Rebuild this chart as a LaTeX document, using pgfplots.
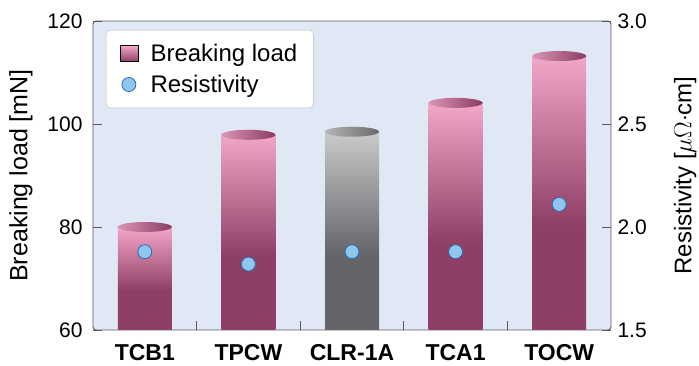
\documentclass[border=0pt]{standalone}
\usepackage{pgfplots}
\pgfplotsset{compat=1.18}
\usepackage{fontspec}
\setmainfont{Liberation Sans}

\definecolor{bgc}{HTML}{E1E8F5}
\definecolor{frame}{HTML}{5A5A5E}
\definecolor{pL}{HTML}{F2A6C8}
\definecolor{pD}{HTML}{8F3F66}
\definecolor{gL}{HTML}{CACACB}
\definecolor{gD}{HTML}{646569}
\definecolor{tpL}{HTML}{D996B6}
\definecolor{tpD}{HTML}{8C3B62}
\definecolor{tgL}{HTML}{B4B4B6}
\definecolor{tgD}{HTML}{6A6A6D}
\definecolor{dotF}{HTML}{8EC6EE}
\definecolor{dotD}{HTML}{2F68B0}

\pgfdeclareverticalshading{barpink}{100bp}{color(0bp)=(pD); color(25bp)=(pD); color(44bp)=(pD); color(75bp)=(pL); color(100bp)=(pL)}
\pgfdeclareverticalshading{bargrey}{100bp}{color(0bp)=(gD); color(25bp)=(gD); color(44bp)=(gD); color(75bp)=(gL); color(100bp)=(gL)}
\pgfdeclarehorizontalshading{toppink}{100bp}{color(0bp)=(tpL); color(25bp)=(tpL); color(75bp)=(tpD); color(100bp)=(tpD)}
\pgfdeclarehorizontalshading{topgrey}{100bp}{color(0bp)=(tgL); color(25bp)=(tgL); color(75bp)=(tgD); color(100bp)=(tgD)}

\pgfdeclareplotmark{cyltopP}{%
  \pgfpathellipse{\pgfpointorigin}{\pgfqpoint{27pt}{0pt}}{\pgfqpoint{0pt}{5pt}}%
  \pgfshadepath{toppink}{0}\pgfusepath{}}
\pgfdeclareplotmark{cyltopG}{%
  \pgfpathellipse{\pgfpointorigin}{\pgfqpoint{27pt}{0pt}}{\pgfqpoint{0pt}{5pt}}%
  \pgfshadepath{topgrey}{0}\pgfusepath{}}

\begin{document}
\begin{tikzpicture}
\useasboundingbox (0,0) rectangle (699pt,366pt);
\begin{axis}[
  at={(93pt,36pt)}, anchor=south west,
  scale only axis, width=518pt, height=309pt,
  xmin=-0.5, xmax=4.5, ymin=0, ymax=60,
  y filter/.expression={y-60},
  axis background/.style={fill=bgc, draw=frame, line width=0.9pt, rounded corners=3pt},
  axis line style={draw=none},
  xtick={0,1,2,3,4},
  xticklabels={TCB1,TPCW,CLR-1A,TCA1,TOCW},
  xticklabel style={font=\fontsize{23}{26}\selectfont\bfseries, inner sep=1pt, yshift=-13pt},
  major x tick style={draw=none},
  minor xtick={0.5,1.5,2.5,3.5},
  minor tick length=9pt,
  minor x tick style={draw=frame, line width=0.9pt},
  xtick pos=bottom,
  ytick={0,20,40,60},
  yticklabels={60,80,100,120},
  ytick pos=left,
  major tick length=9pt,
  tick align=inside,
  major y tick style={draw=frame, line width=0.9pt},
  yticklabel style={font=\fontsize{21}{24}\selectfont, xshift=-7pt},
  ylabel={Breaking load [mN]},
  ylabel style={font=\fontsize{25}{28}\selectfont, at={(axis description cs:-0.139,0.5)}, anchor=center},
]
\addplot[ybar, bar width=54pt, bar shift=0pt, draw=none, shading=barpink] coordinates {(0,80)};
\addplot[ybar, bar width=54pt, bar shift=0pt, draw=none, shading=barpink] coordinates {(1,97.9)};
\addplot[ybar, bar width=54pt, bar shift=0pt, draw=none, shading=bargrey] coordinates {(2,98.5)};
\addplot[ybar, bar width=54pt, bar shift=0pt, draw=none, shading=barpink] coordinates {(3,104.1)};
\addplot[ybar, bar width=54pt, bar shift=0pt, draw=none, shading=barpink] coordinates {(4,113.2)};
\addplot[only marks, mark=cyltopP] coordinates {(0,80) (1,97.9) (3,104.1) (4,113.2)};
\addplot[only marks, mark=cyltopG] coordinates {(2,98.5)};
\end{axis}
\begin{axis}[
  at={(93pt,36pt)}, anchor=south west,
  scale only axis, width=518pt, height=309pt,
  xmin=-0.5, xmax=4.5, ymin=1.5, ymax=3.0,
  hide x axis,
  axis y line*=right,
  axis line style={draw=none},
  ytick={1.5,2.0,2.5,3.0},
  major tick length=9pt,
  tick align=inside,
  major y tick style={draw=frame, line width=0.9pt},
  yticklabel style={font=\fontsize{21}{24}\selectfont, xshift=3pt, /pgf/number format/fixed, /pgf/number format/fixed zerofill, /pgf/number format/precision=1},
  /pgf/number format/assume math mode=true,
  ylabel={Resistivity [$\mu\Omega\cdot$cm]},
  ylabel style={font=\fontsize{24}{27}\selectfont, at={(axis description cs:1.143,0.5)}, anchor=center},
  legend style={at={(0.025,0.971)}, anchor=north west, draw=gray!55, fill=white, rounded corners=4pt, font=\fontsize{24}{28}\selectfont, inner xsep=14pt, inner ysep=12pt, row sep=8pt, /tikz/every odd column/.append style={column sep=10pt}},
  legend cell align=left,
]
\addlegendimage{legend image code/.code={\shade[sharp corners, top color=pL, bottom color=pD] (0pt,-8pt) rectangle (18pt,8pt);}}
\addlegendentry{Breaking load}
\addplot[only marks, mark=*, mark size=7pt, mark options={fill=dotF, draw=dotD, line width=0.8pt}] coordinates {(0,1.88) (1,1.82) (2,1.88) (3,1.88) (4,2.11)};
\addlegendentry{Resistivity}
\end{axis}
\end{tikzpicture}
\end{document}
